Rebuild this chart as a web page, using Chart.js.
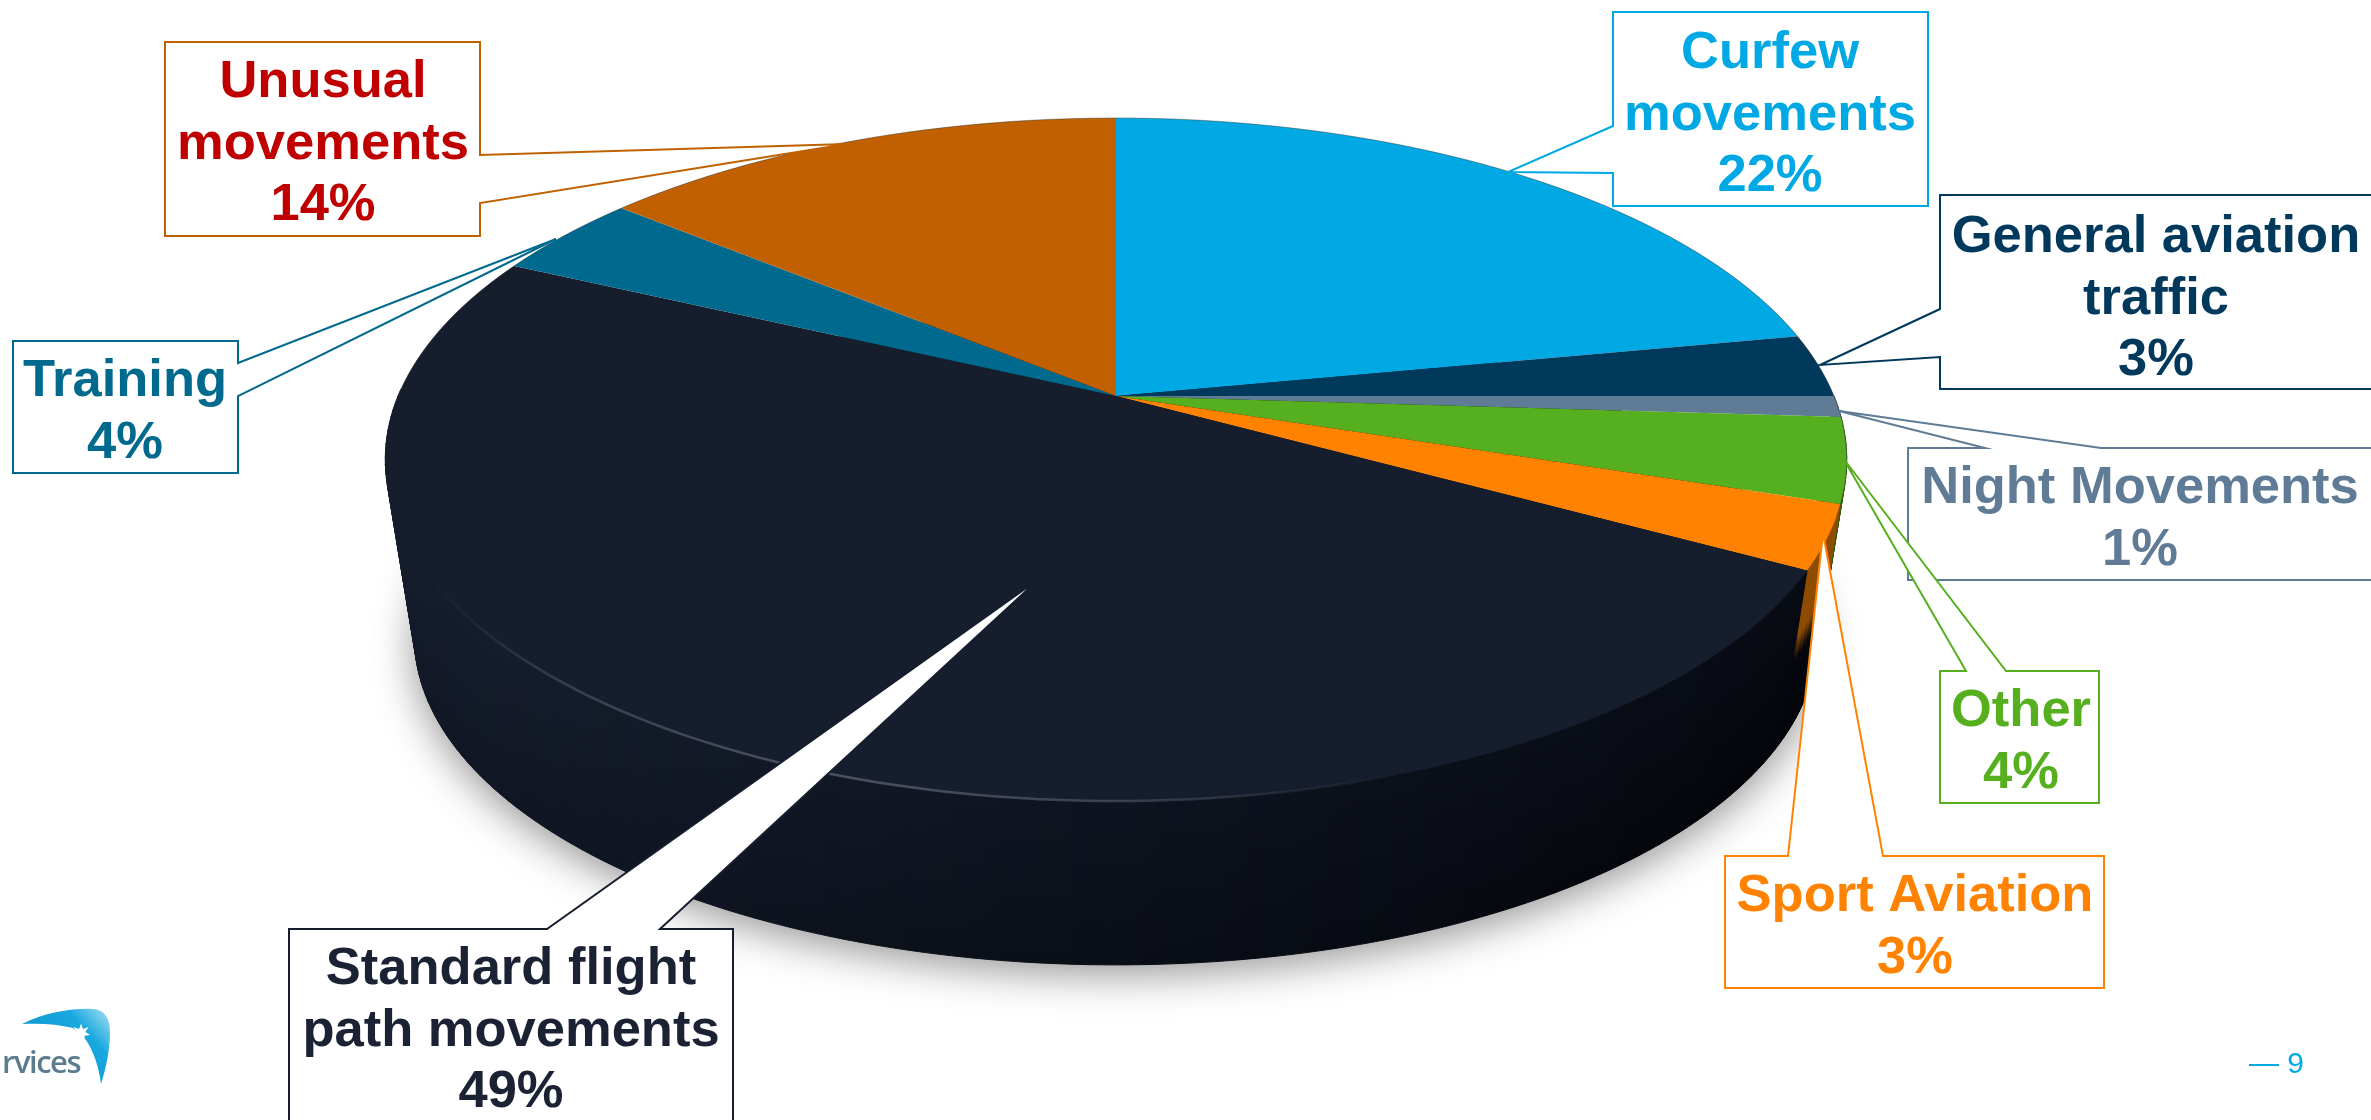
<!DOCTYPE html>
<html lang="en">
<head>
    <meta charset="UTF-8">
    <title>Movements by type</title>
    <script src="https://cdn.jsdelivr.net/npm/chart.js"></script>
    <style>
        html, body { margin: 0; padding: 0; background: #fff; overflow: hidden; }
        canvas { display: block; }
    </style>
</head>
<body>

<canvas id="pieChart" width="2371" height="1120"></canvas>

<script>
    // Chart data, clockwise from the top of the pie
    const categories = ['Curfew movements', 'General aviation traffic', 'Night Movements', 'Other',
        'Sport Aviation', 'Standard flight path movements', 'Training', 'Unusual movements'];
    const values = [22, 3, 1, 4, 3, 49, 4, 14];
    const sliceColours = ['#00a9e4', '#00395c', '#5f7b96', '#56af1e', '#ff8300', '#161e2e', '#006a8e', '#c06000'];
    const textColours = ['#00a9e4', '#00395c', '#5f7b96', '#56af1e', '#ff8300', '#1b2234', '#006a8e', '#c00000'];
    const rimColours = ['#00658a', '#00233a', '#3a4c5e', '#2c5c0c', '#8f4c00', null, '#004058', '#6e3800'];

    // Callout text broken over lines, same order as categories
    const labelLines = [['Curfew', 'movements'], ['General aviation', 'traffic'], ['Night Movements'], ['Other'],
        ['Sport Aviation'], ['Standard flight', 'path movements'], ['Training'], ['Unusual', 'movements']];

    // Callout layout: outline with its pointer, text centre and first baseline
    const calloutLayout = [
        { i: 6, x: 125, y: 396, path: [[13, 341], [238, 341], [238, 363], [556, 239], [238, 396], [238, 473], [13, 473]] },
        { i: 7, x: 323, y: 97, path: [[165, 42], [480, 42], [480, 155], [847, 144], [480, 203], [480, 236], [165, 236]] },
        { i: 0, x: 1770, y: 68, path: [[1613, 12], [1928, 12], [1928, 206], [1613, 206], [1613, 173], [1508, 172], [1613, 126]] },
        { i: 1, x: 2156, y: 252, path: [[1940, 195], [2380, 195], [2380, 389], [1940, 389], [1940, 357], [1820, 365], [1940, 309]] },
        { i: 2, x: 2140, y: 503, path: [[1908, 448], [1985, 448], [1839, 411], [2101, 448], [2380, 448], [2380, 580], [1908, 580]] },
        { i: 3, x: 2021, y: 726, path: [[1940, 671], [1966, 671], [1843, 458], [2006, 671], [2099, 671], [2099, 803], [1940, 803]] },
        { i: 4, x: 1915, y: 911, path: [[1725, 856], [1788, 856], [1823, 533], [1883, 856], [2104, 856], [2104, 988], [1725, 988]] },
        { i: 5, x: 511, y: 984, path: [[289, 929], [547, 929], [1039, 579], [660, 929], [733, 929], [733, 1130], [289, 1130]] }
    ];

    // Perspective of the tilted disc (apex of the pie and how it is foreshortened)
    const apexX = 1116, apexY = 396, discR = 718, discH = 329.7, tilt = 0.186;
    const topRow = 118, bottomRow = 802;
    // Bottom face of the disc relative to the top face
    const depthScale = 0.96, depthShift = 195.9;

    function project(X, Y) {
        const w = 1 / (1 - tilt * Y);
        return [apexX + discR * X * w, apexY + discH * Y * w];
    }

    function lower(p) {
        return [apexX + depthScale * (p[0] - apexX), depthScale * p[1] + depthShift];
    }

    function mix(a, b, t) {
        return a.map((v, k) => Math.round(v + (b[k] - v) * t));
    }

    function rgb(c) {
        return `rgb(${c[0]},${c[1]},${c[2]})`;
    }

    function drawShadow(ctx) {
        ctx.save();
        ctx.shadowColor = 'rgba(0,0,0,0.42)';
        ctx.shadowBlur = 42;
        ctx.shadowOffsetY = 10;
        ctx.fillStyle = '#10151f';
        ctx.beginPath();
        ctx.ellipse(apexX, 637, 702, 327, 0, 0, Math.PI * 2);
        ctx.fill();
        ctx.restore();
    }

    // Side wall, thin quads round each slice, painted from the far side to the near side
    function drawRim(ctx, arcs) {
        const quads = [];
        arcs.forEach((arc, i) => {
            const steps = Math.ceil((arc.endAngle - arc.startAngle) / 0.02);
            for (let s = 0; s < steps; s++) {
                const a0 = arc.startAngle + (arc.endAngle - arc.startAngle) * s / steps;
                const a1 = arc.startAngle + (arc.endAngle - arc.startAngle) * (s + 1) / steps;
                if (Math.sin(a0) < 0 && Math.sin(a1) < 0) continue; // far side is hidden
                quads.push({ i, a0, a1, near: Math.sin((a0 + a1) / 2) });
            }
        });
        quads.sort((a, b) => a.near - b.near);

        quads.forEach(q => {
            const p0 = project(Math.cos(q.a0), Math.sin(q.a0));
            const p1 = project(Math.cos(q.a1), Math.sin(q.a1));
            const q0 = lower(p0), q1 = lower(p1);
            const grad = ctx.createLinearGradient(0, p0[1], 0, q0[1]);
            if (rimColours[q.i]) {
                grad.addColorStop(0, rimColours[q.i]);
                grad.addColorStop(0.4, rimColours[q.i]);
                grad.addColorStop(0.55, '#05070d');
                grad.addColorStop(1, '#030509');
            } else {
                const t = (p0[0] - 385) / 1463;
                grad.addColorStop(0, rgb(t < 0.5 ? mix([22, 30, 46], [14, 19, 31], t * 2) : mix([14, 19, 31], [8, 11, 19], t * 2 - 1)));
                grad.addColorStop(1, rgb(t < 0.5 ? mix([17, 23, 37], [10, 14, 23], t * 2) : mix([10, 14, 23], [3, 5, 10], t * 2 - 1)));
            }
            ctx.fillStyle = grad;
            ctx.strokeStyle = grad;
            ctx.lineWidth = 1;
            ctx.beginPath();
            ctx.moveTo(p0[0], p0[1]);
            ctx.lineTo(p1[0], p1[1]);
            ctx.lineTo(q1[0], q1[1]);
            ctx.lineTo(q0[0], q0[1]);
            ctx.closePath();
            ctx.fill();
            ctx.stroke();
        });
    }

    // Lets the library draw its arcs row by row, each row with its own perspective scale
    function drawTopFace(ctx, arcs) {
        const cx = arcs[0].x, cy = arcs[0].y, r = arcs[0].outerRadius;
        for (let row = topRow; row < bottomRow; row++) {
            const d = row + 0.5 - apexY;
            const Y = d / (discH + tilt * d);
            const w = 1 / (1 - tilt * Y);
            const sx = discR * w / r;
            const sy = (discH + tilt * d) * (discH + tilt * d) / discH / r;
            ctx.save();
            ctx.beginPath();
            ctx.rect(0, row, 2371, 1);
            ctx.clip();
            ctx.setTransform(sx, 0, 0, sy, apexX - cx * sx, row + 0.5 - sy * (cy + r * Y));
            arcs.forEach(arc => arc.draw(ctx));
            ctx.restore();
        }
    }

    // Thin dark outline on the far and right side of the disc, faint highlight on its front edge
    function drawEdges(ctx) {
        ctx.save();
        ctx.lineWidth = 1;
        ctx.strokeStyle = 'rgba(50,55,55,0.45)';
        ctx.beginPath();
        for (let a = -180; a <= 20; a += 2) {
            const p = project(Math.cos(a * Math.PI / 180), Math.sin(a * Math.PI / 180));
            if (a === -180) ctx.moveTo(p[0], p[1]); else ctx.lineTo(p[0], p[1]);
        }
        ctx.stroke();

        const grad = ctx.createLinearGradient(430, 0, 1400, 0);
        grad.addColorStop(0, 'rgba(90,96,112,0)');
        grad.addColorStop(0.14, 'rgba(90,96,112,0.5)');
        grad.addColorStop(0.4, 'rgba(90,96,112,0.8)');
        grad.addColorStop(0.72, 'rgba(90,96,112,0.55)');
        grad.addColorStop(1, 'rgba(90,96,112,0)');
        ctx.strokeStyle = grad;
        ctx.lineWidth = 2.5;
        ctx.beginPath();
        for (let a = 60; a <= 150; a += 1) {
            const p = project(Math.cos(a * Math.PI / 180), Math.sin(a * Math.PI / 180));
            if (a === 60) ctx.moveTo(p[0], p[1]); else ctx.lineTo(p[0], p[1]);
        }
        ctx.stroke();
        ctx.restore();
    }

    function drawCallouts(ctx) {
        ctx.save();
        ctx.textAlign = 'center';
        ctx.textBaseline = 'alphabetic';
        ctx.font = 'bold 52.5px "Liberation Sans"';
        calloutLayout.forEach(c => {
            ctx.beginPath();
            c.path.forEach((p, k) => k === 0 ? ctx.moveTo(p[0], p[1]) : ctx.lineTo(p[0], p[1]));
            ctx.closePath();
            ctx.fillStyle = '#fff';
            ctx.fill();
            ctx.strokeStyle = sliceColours[c.i];
            ctx.lineWidth = 2;
            ctx.stroke();

            ctx.fillStyle = textColours[c.i];
            const lines = labelLines[c.i].concat(values[c.i] + '%');
            lines.forEach((line, k) => ctx.fillText(line, c.x, c.y + k * 61.5));
        });
        ctx.restore();
    }

    function drawFooter(ctx) {
        ctx.save();
        // Logo swoosh
        const grad = ctx.createLinearGradient(30, 1080, 110, 1010);
        grad.addColorStop(0, '#0a8fc8');
        grad.addColorStop(0.7, '#18a8df');
        grad.addColorStop(1, '#a8e0f2');
        ctx.fillStyle = grad;
        ctx.beginPath();
        ctx.moveTo(22, 1024);
        ctx.bezierCurveTo(45, 1012, 75, 1008, 93, 1009);
        ctx.bezierCurveTo(106, 1010, 110, 1020, 110, 1032);
        ctx.bezierCurveTo(110, 1050, 106, 1068, 101, 1084);
        ctx.bezierCurveTo(99, 1068, 94, 1052, 86, 1040);
        ctx.lineTo(73, 1028);
        ctx.bezierCurveTo(58, 1024, 40, 1023, 22, 1024);
        ctx.closePath();
        ctx.fill();

        ctx.fillStyle = '#fff';
        ctx.beginPath();
        for (let k = 0; k < 14; k++) {
            const a = k * Math.PI / 7 - Math.PI / 2;
            const rad = k % 2 === 0 ? 9.5 : 4.5;
            const px = 81 + rad * Math.cos(a), py = 1033 + rad * Math.sin(a);
            if (k === 0) ctx.moveTo(px, py); else ctx.lineTo(px, py);
        }
        ctx.closePath();
        ctx.fill();

        ctx.fillStyle = '#5b7c8f';
        ctx.textAlign = 'right';
        ctx.font = '600 31px "Open Sans"';
        ctx.letterSpacing = '-1.5px';
        ctx.fillText('rvices', 80, 1073);
        ctx.letterSpacing = '0px';

        ctx.fillStyle = '#00a9e4';
        ctx.font = '30px "Liberation Sans"';
        ctx.fillText('\u2014 9', 2304, 1073);
        ctx.restore();
    }

    const disc3d = {
        id: 'disc3d',
        beforeDatasetsDraw(chart) {
            const ctx = chart.ctx;
            const arcs = chart.getDatasetMeta(0).data;
            drawShadow(ctx);
            drawRim(ctx, arcs);
            drawTopFace(ctx, arcs);
            drawEdges(ctx);
            return false; // the plain round pie is not wanted
        },
        afterDraw(chart) {
            drawCallouts(chart.ctx);
            drawFooter(chart.ctx);
        }
    };

    new Chart(document.getElementById('pieChart').getContext('2d'), {
        type: 'pie',
        data: {
            labels: categories,
            datasets: [{ data: values, backgroundColor: sliceColours, borderWidth: 0 }]
        },
        options: {
            responsive: false,
            animation: false,
            devicePixelRatio: 1,
            plugins: { legend: { display: false }, tooltip: { enabled: false } }
        },
        plugins: [disc3d]
    });
</script>

</body>
</html>
